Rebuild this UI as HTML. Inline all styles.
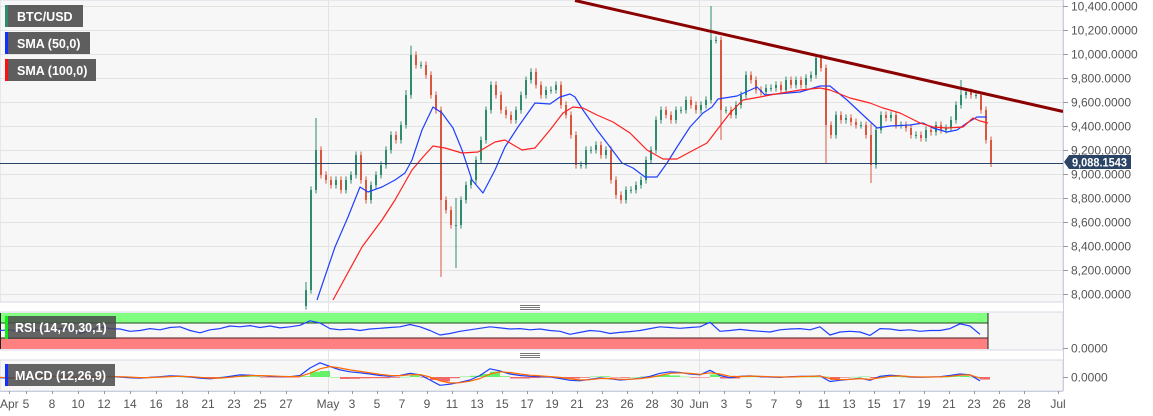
<!DOCTYPE html>
<html><head><meta charset="utf-8"><style>
html,body{margin:0;padding:0;background:#fff;}
svg{display:block;font-family:"Liberation Sans",sans-serif;}
</style></head><body>
<svg id="chart" width="1153" height="416" viewBox="0 0 1153 416" xmlns="http://www.w3.org/2000/svg">
<rect x="0" y="0" width="1063" height="302" fill="#f7f7f7" stroke="#d5dae6"/>
<rect x="0" y="312" width="1063" height="38" fill="#f7f7f7" stroke="#d5dae6"/>
<rect x="0" y="360" width="1063" height="31" fill="#f7f7f7" stroke="#d5dae6"/>
<g id="grid"></g>
<g id="rsiBands">
<rect x="0" y="313" width="988" height="10" fill="#80ff80"/>
<rect x="0" y="338" width="988" height="11" fill="#ff8080"/>
<line x1="0" y1="323" x2="988" y2="323" stroke="#1f4a1f" stroke-width="1"/>
<line x1="0" y1="338" x2="988" y2="338" stroke="#4a1f1f" stroke-width="1"/>
<line x1="988" y1="313" x2="988" y2="349" stroke="#222" stroke-width="1"/>
<line x1="0.5" y1="313" x2="0.5" y2="349" stroke="#222" stroke-width="1"/>
</g>
<g id="candles"></g>
<g id="smas"></g>
<line x1="575" y1="0.5" x2="1063" y2="111.5" stroke="#8b0000" stroke-width="3"/>
<line x1="0" y1="163.5" x2="1063" y2="163.5" stroke="#2b4466" stroke-width="1"/>
<g id="ind"></g>
<g id="axes"></g>
<g>
<path d="M520 305.5h20M520 307.5h20M520 309.5h20" stroke="#777" stroke-width="1"/>
<path d="M520 353.5h20M520 355.5h20M520 357.5h20" stroke="#777" stroke-width="1"/>
</g>
<g font-size="12.5" font-weight="bold" fill="#fff">
<g><rect x="5" y="5" width="78" height="22" fill="#5e5e5e"/><rect x="5" y="5" width="3" height="22" fill="#2e8b6e"/><text x="17" y="21">BTC/USD</text></g>
<g><rect x="5" y="32" width="85" height="22" fill="#5e5e5e"/><rect x="5" y="32" width="3" height="22" fill="#1030ff"/><text x="17" y="48">SMA (50,0)</text></g>
<g><rect x="5" y="59" width="91" height="22" fill="#5e5e5e"/><rect x="5" y="59" width="3" height="22" fill="#ff1010"/><text x="17" y="75">SMA (100,0)</text></g>
<g><rect x="5" y="316" width="111" height="23" fill="#4a4a4a" opacity="0.85"/><rect x="5" y="316" width="3" height="23" fill="#11ee11"/><text x="15" y="332">RSI (14,70,30,1)</text></g>
<g><rect x="5" y="364" width="110" height="22" fill="#4a4a4a" opacity="0.85"/><rect x="5" y="364" width="3" height="22" fill="#1030ff"/><text x="15" y="380">MACD (12,26,9)</text></g>
</g>
<g>
<path d="M1064 162 L1069 155 H1131 V169 H1069 Z" fill="#2b4466"/>
<text x="1072" y="166.5" font-size="12" font-weight="bold" fill="#fff" textLength="55" lengthAdjust="spacingAndGlyphs">9,088.1543</text>
</g>
</svg>
<script>
const closes=[8033,8867,9200,8992,8950,8908,8950,8867,8950,8992,9158,8950,8783,8908,8992,9075,9200,9325,9283,9408,9658,9992,9908,9908,9825,9658,9533,8783,8700,8575,8575,8783,8908,8950,9117,9283,9533,9742,9658,9533,9492,9450,9533,9658,9783,9850,9742,9658,9700,9700,9742,9575,9492,9325,9075,9075,9200,9200,9242,9158,9200,8950,8825,8783,8867,8867,8908,8950,9117,9200,9450,9533,9492,9450,9533,9533,9617,9575,9533,9575,9617,10117,10117,9533,9533,9492,9575,9658,9825,9783,9700,9683,9717,9717,9742,9700,9783,9742,9783,9742,9800,9825,9967,9883,9408,9325,9492,9450,9467,9433,9408,9408,9325,9075,9367,9492,9467,9492,9408,9408,9383,9325,9325,9300,9367,9350,9408,9367,9383,9450,9575,9658,9683,9658,9658,9533,9283,9088];
const firstOpen=7900;
const spikeIdx=[0,2,27,30,81,83,104,113,131,20,21];
const spikeHigh=[8100,9467,9560,8800,10400,10130,9900,9420,9783,9700,10070];
const spikeLow=[7880,8880,8142,8217,9600,9283,9092,8925,9640,9390,9900];
const sma50Idx=[2.4,6,8.6,11,12.6,15.4,18,20,21.4,23.4,25.6,27.4,29.6,31.4,33.4,35.6,38,40,42.6,46,49,51,53,54,55.6,58.4,61,63.4,65.6,68,70.4,72.4,74.4,77,79.6,81.4,82.6,86.4,90.4,92,99,103,105,108.4,111.6,114.4,117,121,123.6,125.6,128.4,130.4,132.4,134.4,136.4];
const sma50Val=[7950,8392,8642,8892,8850,8892,8950,9008,9117,9367,9558,9508,9383,9200,8950,8842,9033,9225,9392,9592,9583,9642,9667,9642,9533,9367,9225,9092,9050,8975,8975,9092,9225,9392,9508,9558,9625,9650,9725,9658,9683,9733,9733,9617,9492,9383,9400,9408,9425,9383,9350,9367,9425,9475,9475];
const sma100Idx=[5.6,11.4,15.4,18,21.4,23.6,25.6,28,31.4,34.6,38,40,43.4,46,49,51.6,53.6,55.6,58.4,61.6,65,68.4,71.6,74.4,77,80.4,82.4,85,87.6,91,93,99,103,105,109,113,115.6,119,123,125.6,128.4,131.6,133.6,135,136.6];
const sma100Val=[7950,8392,8617,8783,9033,9142,9233,9217,9175,9183,9267,9283,9200,9217,9367,9508,9558,9550,9492,9433,9342,9200,9125,9125,9183,9258,9367,9508,9617,9642,9658,9700,9717,9700,9633,9592,9550,9508,9425,9392,9383,9392,9467,9442,9425];
const rsiVals=[50,52,46,55,50,48,56,52,42,50,60,55,54,48,50,55,52,58,60,50,44,52,55,62,60,63,58,62,57,60,64,76,70,55,52,54,50,54,56,58,60,66,60,50,38,42,48,52,56,60,57,54,55,52,54,50,48,40,45,50,48,42,45,47,50,55,60,58,56,58,60,72,48,50,53,50,48,46,52,54,55,52,60,38,46,48,46,37,55,54,50,52,48,50,50,55,68,62,40];
const macdVals=[-5,-8,-3,5,8,6,2,-4,-6,-2,5,3,0,-5,-8,-3,2,8,6,0,-8,-12,-5,5,14,12,8,4,3,2,10,60,95,70,47,35,28,20,10,5,10,25,15,-20,-55,-48,-35,-20,10,55,40,20,10,5,3,0,-10,-22,-25,-15,-5,-12,-20,-15,-8,5,25,35,30,20,15,45,10,-5,5,8,3,0,-3,2,5,5,8,-30,-22,-15,-8,-22,5,12,8,0,-2,0,2,10,20,15,-25];
const signalVals=[-3,-5,-5,0,4,6,4,0,-3,-3,1,3,2,-1,-4,-4,-1,3,5,3,-2,-7,-7,-2,5,9,9,7,5,3,5,25,55,70,60,47,37,28,18,10,9,15,16,0,-25,-40,-38,-28,-10,20,35,30,20,12,7,3,-3,-12,-20,-18,-10,-10,-15,-15,-11,-3,10,25,28,24,18,28,20,5,3,6,5,2,0,0,3,4,6,-10,-18,-16,-11,-16,-5,5,7,3,0,0,1,5,13,14,-8];
const priceTicks=[8000,8200,8400,8600,8800,9000,9200,9400,9600,9800,10000,10200,10400];
const dateLabels=["Apr","5","8","10","12","14","16","18","21","23","25","27","May","3","5","7","9","11","13","15","17","19","21","23","26","28","30","Jun","3","5","7","9","11","13","15","17","19","21","23","26","28","Jul"];
const dateLabelX=[9,26,52,78,104,130,156,182,208,234,260,286,328,352,377,402,427,452,477,502,527,552,577,602,627,652,677,699,724,749,774,799,824,849,874,899,924,949,974,999,1024,1058];

const NS="http://www.w3.org/2000/svg";
function mk(tag,attrs,parent){const e=document.createElementNS(NS,tag);for(const k in attrs)e.setAttribute(k,attrs[k]);parent.appendChild(e);return e;}
const xC=i=>305+5*i;
const yP=v=>6+(10400-v)*0.12;
const xI=i=>10*i;
const yR=v=>323+(70-v)*0.375;
const yM=v=>377-v*0.15;
const WICK=30;

const grid=document.getElementById('grid');
priceTicks.forEach(v=>{const l=mk('line',{x1:0,x2:1063,y1:yP(v)+0.5,y2:yP(v)+0.5,stroke:'#e3e3e3'},grid);

});
[328,699].forEach(x=>{const l=mk('line',{x1:x+0.5,x2:x+0.5,y1:0,y2:391,stroke:'#e3e3e3'},grid);

});

const cg=document.getElementById('candles');
let prev=firstOpen;
closes.forEach((c,i)=>{
  const o=prev;prev=c;
  const up=c>=o;const col=up?'#2e8b6e':'#d9573f';
  let hi=Math.max(o,c)+WICK,lo=Math.min(o,c)-WICK;
  const k=spikeIdx.indexOf(i);
  if(k>=0){hi=Math.max(hi,spikeHigh[k]);lo=Math.min(lo,spikeLow[k]);}
  const x=xC(i);
  const w=mk('line',{x1:x+1,x2:x+1,y1:yP(hi),y2:yP(lo),stroke:col,'stroke-width':1},cg);
  
  
  const b=mk('rect',{x:x,y:yP(Math.max(o,c)),width:2,height:Math.max(1,yP(Math.min(o,c))-yP(Math.max(o,c))),fill:col},cg);
  
  
});

const sg=document.getElementById('smas');
function poly(xs,ys,col,parent,fx,fy){
  const pts=xs.map((x,i)=>fx(x).toFixed(1)+','+fy(ys[i]).toFixed(1)).join(' ');
  return mk('polyline',{points:pts,fill:'none',stroke:col,'stroke-width':1.2,'stroke-linejoin':'round'},parent);
}
const s50=poly(sma50Idx,sma50Val,'#1f3fff',sg,xC,yP);


const s100=poly(sma100Idx,sma100Val,'#ff2020',sg,xC,yP);



const ig=document.getElementById('ind');
const idx=rsiVals.map((_,i)=>i);
const rl=poly(idx,rsiVals,'#1f3fff',ig,xI,yR);


macdVals.forEach((m,i)=>{
  const d=m-signalVals[i];
  const y0=yM(0),y1=yM(d);
  const r=mk('rect',{x:xI(i),y:Math.min(y0,y1),width:10,height:Math.max(0.5,Math.abs(y1-y0)),fill:d>=0?'#44ee44':'#ee4444',opacity:0.8},ig);
  
  
});
const ml=poly(idx,macdVals,'#1f3fff',ig,xI,yM);


const sl=poly(idx,signalVals,'#ff6a00',ig,xI,yM);



const ag=document.getElementById('axes');
const ax=mk('line',{x1:1063.5,x2:1063.5,y1:0,y2:391,stroke:'#c8cedd'},ag);


const bx=mk('line',{x1:0,x2:1063,y1:391.5,y2:391.5,stroke:'#c8cedd'},ag);


priceTicks.forEach(v=>{
  const y=yP(v);
  mk('line',{x1:1063,x2:1068,y1:y+0.5,y2:y+0.5,stroke:'#999'},ag);
  const t=mk('text',{x:1071,y:y+4.5,'font-size':12,fill:'#555'},ag);
  t.textContent=v.toLocaleString('en-US')+'.0000';
  
  
});
[[348,'rsi-axis-label'],[377,'macd-axis-label']].forEach(([y,n])=>{
  mk('line',{x1:1063,x2:1068,y1:y+0.5,y2:y+0.5,stroke:'#999'},ag);
  const t=mk('text',{x:1071,y:y+4.5,'font-size':12,fill:'#555'},ag);
  t.textContent='0.0000';
  
  
});
dateLabels.forEach((s,i)=>{
  const x=dateLabelX[i];
  mk('line',{x1:x+0.5,x2:x+0.5,y1:391,y2:394,stroke:'#999'},ag);
  const t=mk('text',{x:x,y:408,'font-size':12,fill:'#555','text-anchor':i===0?'start':'middle'},ag);
  if(i===0)t.setAttribute('x',0);
  t.textContent=s;
  
  
});
</script>
</body></html>
